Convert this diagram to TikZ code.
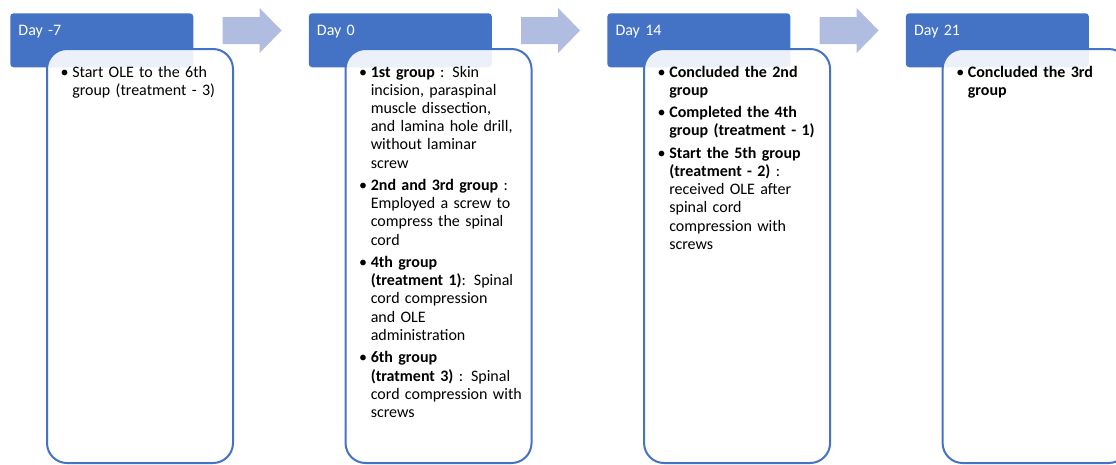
\documentclass[tikz,border=0pt]{standalone}
\usepackage{fontspec}
\setmainfont{Carlito}
\usepackage{xcolor}
\definecolor{accent}{HTML}{4472C4}
\definecolor{accentsoft}{HTML}{B0BDE0}
\usetikzlibrary{positioning,calc}

% one bullet item with hanging indent
\newlength\bulgap
\setlength\bulgap{3.2pt}
\newcommand\bul[1]{\setlength\parskip{\bulgap}\setlength\hangindent{7.5pt}\hangafter=1\relax
  \noindent\makebox[7.5pt][l]{\hspace{-1.2pt}\textbullet}#1\par}

\begin{document}
\begin{tikzpicture}[x=0.75pt, y=0.75pt,
  day/.style={rectangle, rounded corners=2.5pt, fill=accent, text=white,
    minimum width=137.25pt, inner xsep=6pt, inner ysep=0pt,
    text height=16.5pt, text depth=24pt, text width=125pt,
    font=\fontsize{12}{14}\selectfont, anchor=north west},
  card/.style={rectangle, rounded corners=15pt, draw=accent, line width=1.5pt,
    fill=white, fill opacity=0.9, minimum width=139.5pt, minimum height=310.5pt,
    anchor=north west, inner sep=0pt},
  body/.style={text width=122pt, inner sep=0pt, anchor=base west,
    font=\fontsize{12}{13.65}\selectfont},
  flow/.style={fill=accentsoft}]

  \useasboundingbox (0,0) rectangle (1116,-464);
  \clip (0,0) rectangle (1116,-464);

  % Day headers
  \node[day] (d1) at (10,-13) {Day -7};
  \node[day, right=86.25pt of d1] (d2) {Day 0};
  \node[day, right=86.25pt of d2] (d3) {Day 14};
  \node[day, right=86.25pt of d3] (d4) {Day 21};

  % block arrows between the days
  \foreach \a in {d1,d2,d3}
    \fill[flow] ($(\a.north east)+(29,-4)$) -- ++(37,0) -- ++(0,9)
      -- ++(22,-22.5) -- ++(-22,-22.5) -- ++(0,9) -- ++(-37,0) -- cycle;

  % cards over the headers
  \foreach \a/\t in {d1/t1, d2/t2, d3/t3, d4/t4}
    \node[card] (\t) at ($(\a.north west)+(36,-35)$) {};

  \node[body] (n1) at ($(t1.north west)+(16,-29)$)
    {\bul{Start OLE to the 6th\newline group (treatment - 3)}};

  \node[body] (n2) at ($(t2.north west)+(16,-29)$)
    {\bul{\textbf{1st group} : Skin\newline incision, paraspinal\newline muscle dissection,\newline and lamina hole drill,\newline without laminar\newline screw}
     \bul{\textbf{2nd and 3rd group} :\newline Employed a screw to\newline compress the spinal\newline cord}
     \bul{\textbf{4th group\newline (treatment 1)}: Spinal\newline cord compression\newline and OLE\newline administration}
     \bul{\textbf{6th group\newline (tratment 3)} : Spinal\newline cord compression with\newline screws}};

  \node[body] (n3) at ($(t3.north west)+(16,-29)$)
    {\bul{\textbf{Concluded the 2nd\newline group}}
     \bul{\textbf{Completed the 4th\newline group (treatment - 1)}}
     \bul{\textbf{Start the 5th group\newline (treatment - 2)} :\newline received OLE after\newline spinal cord\newline compression with\newline screws}};

  \node[body] (n4) at ($(t4.north west)+(16,-29)$)
    {\bul{\textbf{Concluded the 3rd\newline group}}};
\end{tikzpicture}
\end{document}
